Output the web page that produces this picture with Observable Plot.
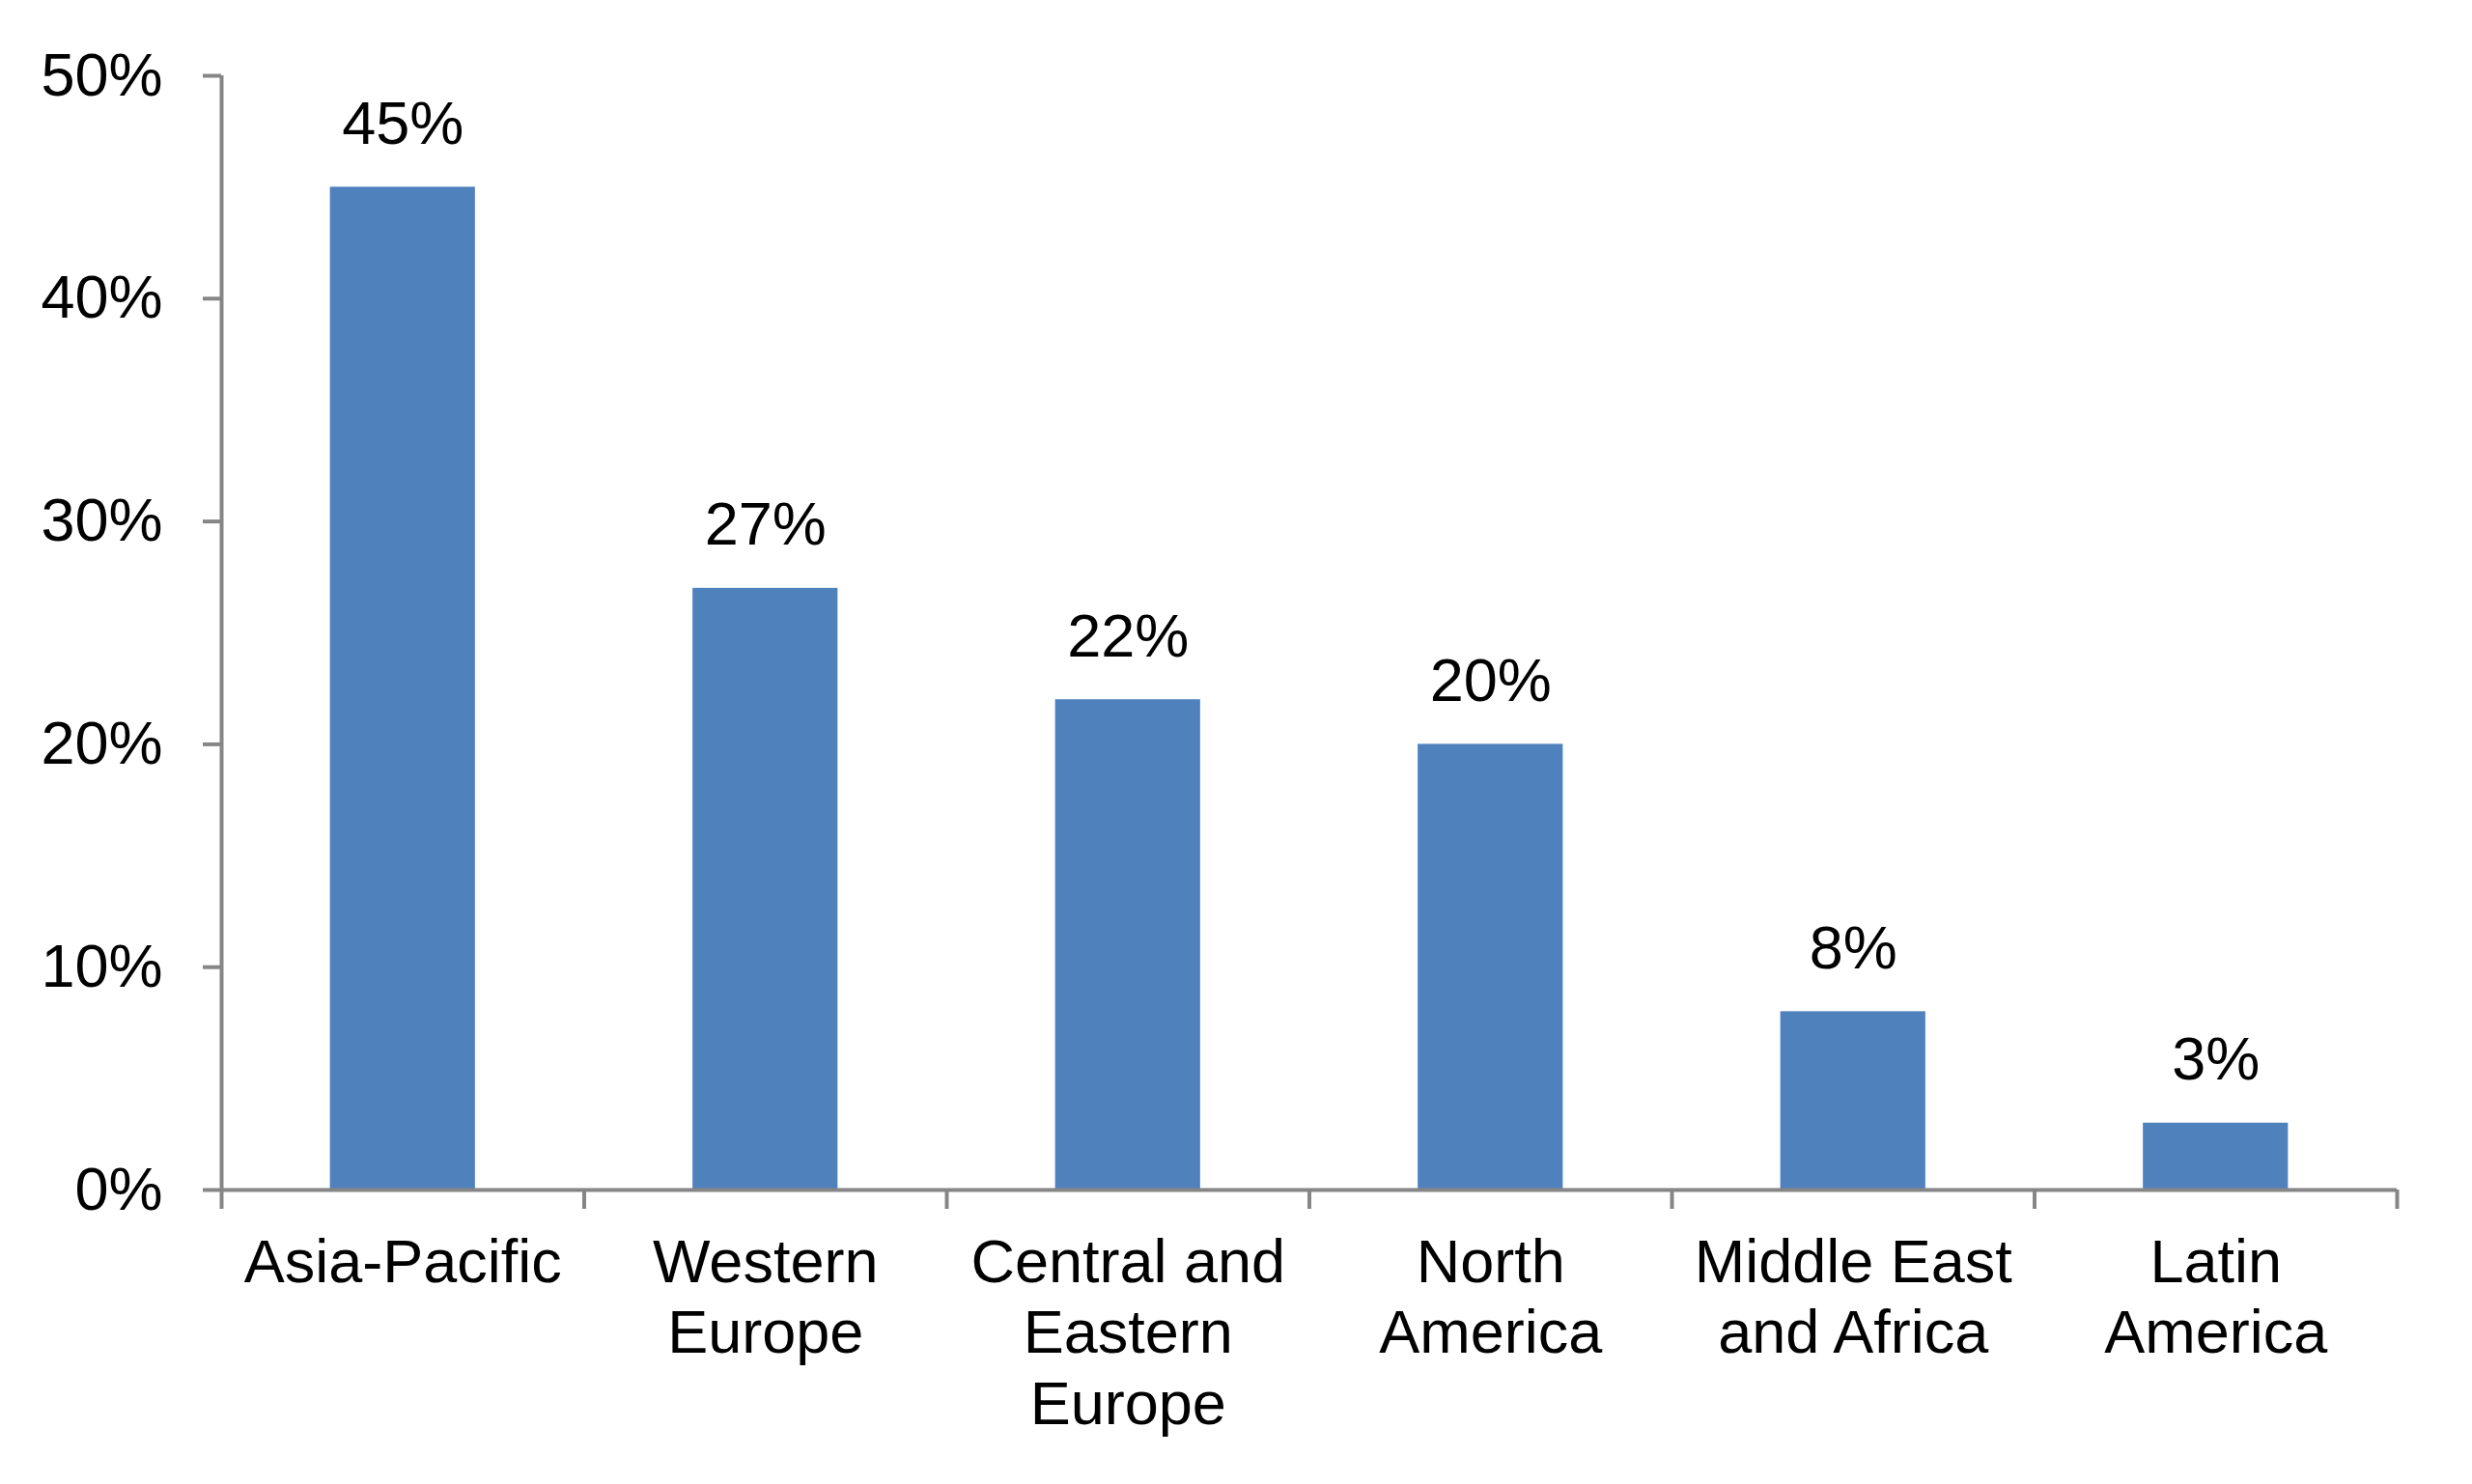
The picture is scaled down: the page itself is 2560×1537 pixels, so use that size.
<!DOCTYPE html>
<html>
<head>
<meta charset="utf-8">
<script src="https://cdn.jsdelivr.net/npm/d3@7"></script>
<script src="https://cdn.jsdelivr.net/npm/@observablehq/plot@0.6"></script>
<style>
  html, body { margin: 0; padding: 0; background: #fff; }
  #chart { width: 2560px; height: 1537px; }
</style>
</head>
<body>
<div id="chart"></div>
<script>
// ---- data ----
const categories = ["Asia-Pacific", "Western Europe", "Central and Eastern Europe", "North America", "Middle East and Africa", "Latin America"];
const categoryLines = ["Asia-Pacific", "Western\nEurope", "Central and\nEastern\nEurope", "North\nAmerica", "Middle East\nand Africa", "Latin\nAmerica"];
const shares = [0.45, 0.27, 0.22, 0.20, 0.08, 0.03];
const yTicks = [0, 0.1, 0.2, 0.3, 0.4, 0.5];

// ---- styles ----
const barColor = "#4F81BD";
const axisColor = "#868686";
const fontSize = 63;
const pct = d3.format(".0%");
const idx = categories.map((c, i) => i);

const chart = Plot.plot({
  width: 2560,
  height: 1537,
  marginTop: 78,
  marginBottom: 305,
  marginLeft: 229,
  marginRight: 78,
  style: { fontFamily: "'Liberation Sans', Arial, sans-serif", color: "black", background: "white" },
  x: { domain: [0, categories.length] },
  y: { domain: [0, 0.5] },
  marks: [
    Plot.rectY(idx, { x1: i => i + 0.3, x2: i => i + 0.7, y: i => shares[i], fill: barColor }),
    Plot.ruleY([0], { stroke: axisColor, strokeWidth: 4 }),
    Plot.ruleX([0], { stroke: axisColor, strokeWidth: 4 }),
    Plot.axisY({ ticks: yTicks, tickSize: 19, tickPadding: 42, tickFormat: pct, fontSize, stroke: axisColor, strokeWidth: 4, label: null }),
    Plot.axisX({ ticks: d3.range(categories.length + 1), tickSize: 20, tickFormat: () => "", stroke: axisColor, strokeWidth: 4, label: null }),
    Plot.text(idx, { x: i => i + 0.5, y: 0, text: i => categoryLines[i], lineAnchor: "top", dy: 44, fontSize, lineHeight: 1.16, fill: "black" }),
    Plot.text(idx, { x: i => i + 0.5, y: i => shares[i], text: i => pct(shares[i]), lineAnchor: "bottom", dy: -45, fontSize, fill: "black" })
  ]
});
document.getElementById("chart").appendChild(chart);
</script>
</body>
</html>
